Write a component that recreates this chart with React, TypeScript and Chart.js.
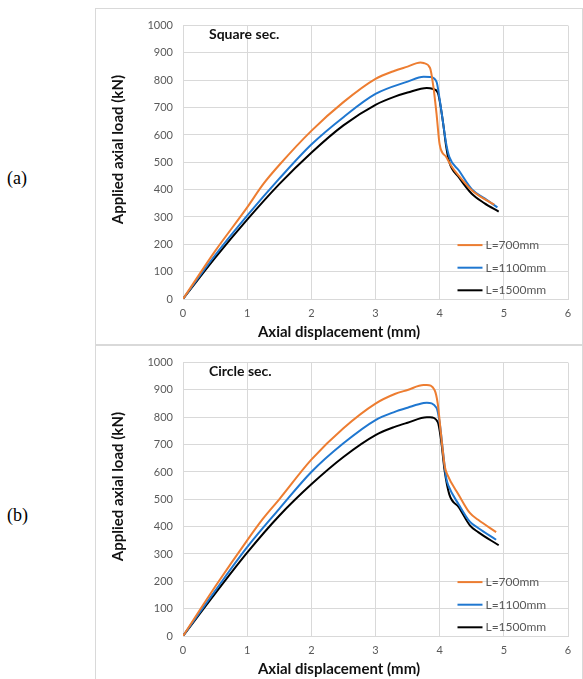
import React, { useEffect, useRef } from "react";
import { Chart, registerables } from "chart.js";
Chart.register(...registerables);

const FONT = "Lato, 'Open Sans', sans-serif";

const xTicks = [0, 1, 2, 3, 4, 5, 6];
const yTicks = [0, 100, 200, 300, 400, 500, 600, 700, 800, 900, 1000];
const seriesNames = ["L=700mm", "L=1100mm", "L=1500mm"];
const seriesColors = ["#ED7D31", "#1F77D0", "#000000"];
const xAxisTitle = "Axial displacement (mm)";
const yAxisTitle = "Applied axial load (kN)";
const panelTitles = ["Square sec.", "Circle sec."];
const panelLabels = ["(a)", "(b)"];

// (a) Square section
const sqX700 = [0, 0.5, 1.0, 1.25, 1.5, 2.0, 2.5, 3.0, 3.3, 3.5, 3.7, 3.75, 3.85, 3.9, 3.95, 4.0, 4.1, 4.2, 4.3, 4.5, 4.7, 4.85];
const sqY700 = [0, 175, 335, 420, 490, 615, 720, 805, 835, 850, 865, 863, 845, 780, 680, 565, 520, 480, 450, 398, 365, 345];
const sqX1100 = [0, 0.5, 1.0, 1.5, 2.0, 2.5, 3.0, 3.5, 3.75, 3.85, 3.95, 4.0, 4.05, 4.1, 4.15, 4.3, 4.5, 4.7, 4.9];
const sqY1100 = [0, 160, 305, 440, 565, 665, 750, 795, 813, 812, 795, 730, 650, 570, 520, 470, 402, 368, 335];
const sqX1500 = [0, 0.5, 1.0, 1.5, 2.0, 2.5, 3.0, 3.3, 3.5, 3.8, 3.9, 3.97, 4.05, 4.1, 4.15, 4.3, 4.5, 4.7, 4.92];
const sqY1500 = [0, 150, 290, 420, 535, 635, 710, 740, 755, 772, 768, 755, 650, 560, 500, 445, 385, 350, 320];

// (b) Circle section
const ciX700 = [0, 0.5, 1.0, 1.25, 1.5, 2.0, 2.5, 3.0, 3.3, 3.5, 3.75, 3.8, 3.92, 3.97, 4.02, 4.08, 4.12, 4.3, 4.47, 4.6, 4.88];
const ciY700 = [0, 180, 350, 430, 500, 645, 760, 850, 885, 900, 918, 918, 900, 850, 740, 620, 590, 515, 450, 425, 380];
const ciX1100 = [0, 0.5, 1.0, 1.5, 2.0, 2.5, 3.0, 3.3, 3.5, 3.75, 3.8, 3.95, 4.0, 4.05, 4.1, 4.14, 4.3, 4.47, 4.6, 4.88];
const ciY1100 = [0, 165, 325, 465, 600, 705, 790, 820, 835, 852, 853, 835, 780, 680, 580, 548, 480, 418, 395, 352];
const ciX1500 = [0, 0.5, 1.0, 1.5, 2.0, 2.5, 3.0, 3.3, 3.5, 3.8, 3.85, 3.97, 4.02, 4.08, 4.15, 4.3, 4.47, 4.6, 4.92];
const ciY1500 = [0, 155, 305, 440, 555, 655, 735, 765, 780, 800, 800, 783, 720, 600, 518, 470, 405, 380, 332];

const panelXs = [[sqX700, sqX1100, sqX1500], [ciX700, ciX1100, ciX1500]];
const panelYs = [[sqY700, sqY1100, sqY1500], [ciY700, ciY1100, ciY1500]];

function Panel({ idx, top }: { idx: number; top: number }) {
  const ref = useRef<HTMLCanvasElement>(null);
  useEffect(() => {
    const xs = panelXs[idx];
    const ys = panelYs[idx];
    const textPlugin = {
      id: "texts",
      afterDraw(chart: any) {
        const { ctx, chartArea: a, width } = chart;
        ctx.save();
        ctx.fillStyle = "#111";
        ctx.font = `bold 14px ${FONT}`;
        ctx.textAlign = "left";
        ctx.textBaseline = "middle";
        ctx.fillText(panelTitles[idx], a.left + 26, a.top + 9);
        ctx.font = `bold 15px ${FONT}`;
        ctx.textAlign = "center";
        ctx.fillText(xAxisTitle, width / 2, a.bottom + 33);
        ctx.save();
        ctx.translate(22, a.top + 124);
        ctx.rotate(-Math.PI / 2);
        ctx.fillText(yAxisTitle, 0, 0);
        ctx.restore();
        ctx.font = `12px ${FONT}`;
        ctx.textAlign = "left";
        seriesNames.forEach((n, i) => {
          const y = a.top + 219.5 + i * 22.6;
          ctx.strokeStyle = seriesColors[i];
          ctx.lineWidth = 2;
          ctx.beginPath();
          ctx.moveTo(a.left + 274.5, y);
          ctx.lineTo(a.left + 299.5, y);
          ctx.stroke();
          ctx.fillStyle = "#595959";
          ctx.fillText(n, a.left + 302.5, y);
        });
        ctx.restore();
      },
    };
    const chart = new Chart(ref.current!, {
      type: "scatter",
      data: {
        datasets: seriesNames.map((n, i) => ({
          label: n,
          data: xs[i].map((x, j) => ({ x, y: ys[i][j] })),
          showLine: true,
          borderColor: seriesColors[i],
          backgroundColor: seriesColors[i],
          borderWidth: 2,
          pointRadius: 0,
          cubicInterpolationMode: "monotone",
        })),
      },
      options: {
        responsive: false,
        maintainAspectRatio: false,
        animation: false,
        layout: { padding: { top: 12, right: 14, left: 0, bottom: 0 } },
        plugins: { legend: { display: false }, tooltip: { enabled: false } },
        scales: {
          x: {
            type: "linear",
            min: 0,
            max: 6,
            afterBuildTicks: (s: any) => {
              s.ticks = xTicks.map((v) => ({ value: v }));
            },
            afterFit: (s: any) => {
              s.height = 45;
            },
            ticks: { color: "#595959", font: { family: FONT, size: 11 }, padding: 8, maxRotation: 0, callback: (v: any) => String(v) },
            grid: { color: "#d9d9d9", drawTicks: false },
            border: { color: "#d9d9d9" },
          },
          y: {
            type: "linear",
            min: 0,
            max: 1000,
            afterBuildTicks: (s: any) => {
              s.ticks = yTicks.map((v) => ({ value: v }));
            },
            afterFit: (s: any) => {
              s.width = 87;
            },
            ticks: { color: "#595959", font: { family: FONT, size: 11 }, padding: 10, callback: (v: any) => String(v) },
            grid: { color: "#d9d9d9", drawTicks: false },
            border: { color: "#d9d9d9" },
          },
        },
      },
      plugins: [textPlugin],
    } as any);
    return () => chart.destroy();
  }, [idx]);
  return (
    <div
      style={{
        position: "absolute",
        left: 95,
        top,
        width: 486,
        height: 335,
        border: "1px solid #d9d9d9",
        background: "#fff",
      }}
    >
      <canvas ref={ref} width={486} height={335} style={{ display: "block" }} />
    </div>
  );
}

export default function App() {
  return (
    <div style={{ position: "absolute", left: 0, top: 0, width: 583, height: 679, overflow: "hidden", background: "#fff" }}>
      <Panel idx={0} top={8} />
      <Panel idx={1} top={345} />
      <div style={{ position: "absolute", left: 7, top: 168, fontFamily: "'Liberation Serif', serif", fontSize: 18 }}>
        {panelLabels[0]}
      </div>
      <div style={{ position: "absolute", left: 7, top: 505, fontFamily: "'Liberation Serif', serif", fontSize: 18 }}>
        {panelLabels[1]}
      </div>
    </div>
  );
}
